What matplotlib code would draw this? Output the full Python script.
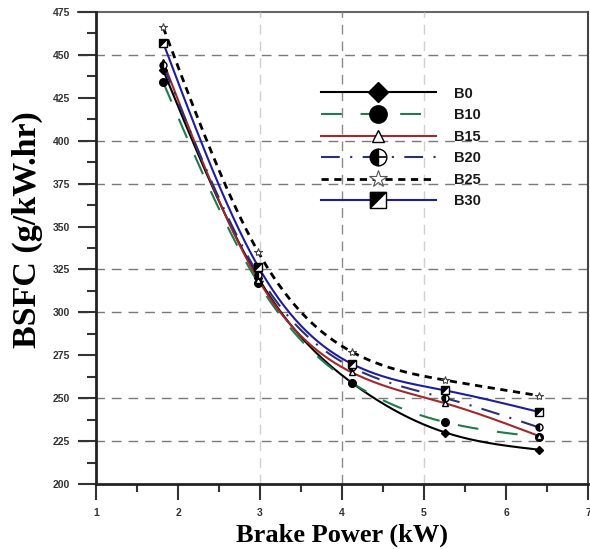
import numpy as np
import matplotlib
matplotlib.use("Agg")
import matplotlib.pyplot as plt
from matplotlib.lines import Line2D
from matplotlib.path import Path
from matplotlib.legend_handler import HandlerTuple
from matplotlib.ticker import MultipleLocator

# data
brake_power = [1.82, 2.98, 4.12, 5.26, 6.40]
b0 = [441, 320, 259, 230, 220]
b10 = [434, 317, 259, 236, 227.5]
b15 = [446, 319, 265, 247, 228]
b20 = [444, 322, 268, 250, 233]
b25 = [466, 335, 277, 260.5, 251.5]
b30 = [457, 326.5, 270, 254.5, 242]
labels = ["B0", "B10", "B15", "B20", "B25", "B30"]


def smooth(x, y, n=200):
    # natural cubic spline, only used to draw the smooth line through the points
    x = np.asarray(x, float)
    y = np.asarray(y, float)
    m = len(x)
    h = np.diff(x)
    A = np.zeros((m, m))
    r = np.zeros(m)
    A[0, 0] = A[-1, -1] = 1
    for i in range(1, m - 1):
        A[i, i - 1] = h[i - 1]
        A[i, i] = 2 * (h[i - 1] + h[i])
        A[i, i + 1] = h[i]
        r[i] = 3 * ((y[i + 1] - y[i]) / h[i] - (y[i] - y[i - 1]) / h[i - 1])
    c = np.linalg.solve(A, r)
    b = (y[1:] - y[:-1]) / h - h * (2 * c[:-1] + c[1:]) / 3
    d = (c[1:] - c[:-1]) / (3 * h)
    xs = np.linspace(x[0], x[-1], n)
    k = np.clip(np.searchsorted(x, xs) - 1, 0, m - 2)
    t = xs - x[k]
    return xs, y[k] + b[k] * t + c[k] * t ** 2 + d[k] * t ** 3


tri_ul = Path([(-1, 1), (1, 1), (-1, -1), (-1, 1)], [1, 2, 2, 79])
half_bar = Path([(0, 0), (1, 0)], [1, 2])

styles = [
    dict(color="black", ls="-", lw=1.5, marker="D", mfc="black", ms=4, lms=10),
    dict(color="#1f7a4d", ls=(0, (10, 9)), lw=1.5, marker="o", mfc="black", ms=5.5, lms=12.5),
    dict(color="#a3282b", ls="-", lw=1.5, marker="^", mfc="white", ms=5, lms=8.5),
    dict(color="#2b2f78", ls=(0, (9, 5, 1, 5)), lw=1.5, marker="o", mfc="black", ms=5, lms=12),
    dict(color="black", ls=(0, (2.6, 2)), lw=2, marker="*", mfc="white", ms=6, lms=13),
    dict(color="#1d1da3", ls="-", lw=1.5, marker="s", mfc="white", ms=5.5, lms=12),
]
series = [b0, b10, b15, b20, b25, b30]

fig = plt.figure(figsize=(5.9, 5.49), dpi=100)
ax = fig.add_axes([96 / 590, 1 - 484 / 549, 492 / 590, 472 / 549])

ax.set_xlim(1, 7)
ax.set_ylim(200, 475)

# grid lines as in the reference (only some levels)
for yv in [225, 250, 300, 325, 375, 400, 450]:
    ax.axhline(yv, xmin=-0.037, xmax=1, color="#7a7a7a", lw=1, ls=(0, (7, 5)),
               clip_on=False, zorder=1)
ax.axhline(475, xmin=-0.037, xmax=1, color="#666666", lw=1.5, clip_on=False, zorder=1)
for xv, col in [(3, "#cfcfcf"), (4, "#8a8a8a"), (5, "#cfcfcf")]:
    ax.axvline(xv, color=col, lw=1, ls=(0, (7, 5)), zorder=1)

handles = []
for vals, st, lab in zip(series, styles, labels):
    xs, ys = smooth(brake_power, vals)
    ax.plot(xs, ys, color=st["color"], ls=st["ls"], lw=st["lw"], zorder=3)
    kw = dict(marker=st["marker"], mfc=st["mfc"], mec="black", mew=1, ls="none")
    if lab == "B20":
        kw.update(fillstyle="left", markerfacecoloralt="white")
    if lab == "B25":
        ax.plot(brake_power, vals, ms=st["ms"], zorder=4,
                **dict(kw, mec="#444444", mew=0.8))
    else:
        ax.plot(brake_power, vals, ms=st["ms"], zorder=4, **kw)
    main = Line2D([], [], color=st["color"], ls=st["ls"], lw=st["lw"], ms=st["lms"],
                  **{k: v for k, v in kw.items() if k != "ls"})
    if lab == "B30":
        ax.plot(brake_power, vals, marker=tri_ul, ms=st["ms"], mfc="black", mec="black",
                mew=0.5, ls="none", zorder=5)
        extra = Line2D([], [], marker=tri_ul, ms=st["lms"], mfc="black", mec="black",
                       mew=0.5, ls="none")
        handles.append((main, extra))
    elif lab == "B20":
        extra = Line2D([], [], marker=half_bar, ms=st["lms"], mfc="none", mec="black",
                       mew=1.2, ls="none")
        handles.append((main, extra))
    elif lab == "B25":
        main.set_markeredgecolor("#555555")
        main.set_markeredgewidth(0.8)
        handles.append(main)
    else:
        handles.append(main)

leg = ax.legend(handles, labels, loc="upper left", bbox_to_anchor=(0.457, 0.842),
                frameon=False, handlelength=7.9, handletextpad=1.25, labelspacing=0.52,
                borderpad=0, borderaxespad=0,
                handler_map={tuple: HandlerTuple(ndivide=1)},
                prop=dict(family="Liberation Sans", weight="bold", size=10.5))
for t in leg.get_texts():
    t.set_color("#1a1a1a")

ax.xaxis.set_major_locator(MultipleLocator(1))
ax.xaxis.set_minor_locator(MultipleLocator(0.5))
ax.yaxis.set_major_locator(MultipleLocator(25))
ax.yaxis.set_minor_locator(MultipleLocator(12.5))
ax.tick_params(axis="x", which="major", direction="out", length=11.5, width=1.5,
               pad=6, colors="#333333", labelsize=7.5)
ax.tick_params(axis="x", which="minor", direction="out", length=5.8, width=1.5, color="#333333")
ax.tick_params(axis="y", which="major", direction="out", length=13, width=1.5,
               pad=5.5, colors="#333333", labelsize=7.5)
ax.tick_params(axis="y", which="minor", direction="out", length=6.5, width=1.5, color="#333333")
for lab in ax.get_xticklabels() + ax.get_yticklabels():
    lab.set_fontfamily("Liberation Sans")
    lab.set_fontweight("bold")

for side in ["left", "bottom"]:
    ax.spines[side].set_linewidth(2)
    ax.spines[side].set_color("#222222")
ax.spines["top"].set_visible(False)
ax.spines["right"].set_color("#444444")
ax.spines["right"].set_linewidth(1.5)

fig.text(342 / 590, 1 - 535 / 549, "Brake Power (kW)", ha="center", va="center",
         family="Liberation Serif", weight="bold", size=19)
fig.text(27 / 590, 1 - 230 / 549, "BSFC (g/kW.hr)", ha="center", va="center",
         rotation=90, family="Liberation Serif", weight="bold", size=24.5)

fig.savefig("out.png", dpi=100)
